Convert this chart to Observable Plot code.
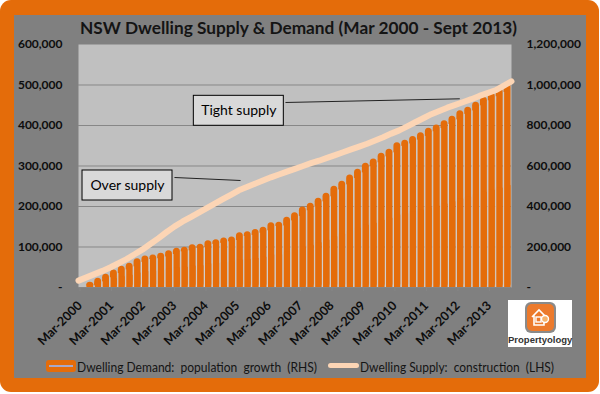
<!DOCTYPE html>
<html>
<head>
<meta charset="utf-8">
<script src="https://cdn.jsdelivr.net/npm/d3@7"></script>
<script src="https://cdn.jsdelivr.net/npm/@observablehq/plot@0.6"></script>
<style>
  html, body { margin: 0; padding: 0; background: #fff; }
  #wrap { position: relative; width: 600px; height: 394px; overflow: hidden; font-family: Lato, sans-serif; }
  .abs { position: absolute; }
  .fit { display: inline-block; white-space: pre; transform-origin: 0 50%; }
</style>
</head>
<body>
<div id="wrap">
  <div class="abs" style="left:0;top:0;width:599px;height:392px;background:#E46C0A;border-radius:11px;"></div>
  <div class="abs" style="left:14px;top:15px;width:572px;height:363px;background:#808080;"></div>
  <div id="chart" class="abs" style="left:0;top:0;"></div>
  <div class="abs" style="left:80px;top:17px;height:22px;line-height:22px;">
    <span id="title" class="fit" style="font-weight:bold;font-size:17px;color:#141414;"></span>
  </div>
  <!-- legend -->
  <div class="abs" style="left:46px;top:360px;width:30px;height:12px;background:#E46C0A;border-radius:3px;"></div>
  <div class="abs" style="left:49px;top:365px;width:24px;height:2px;background:#A8A8C8;"></div>
  <div class="abs" style="left:77px;top:357px;height:18px;line-height:18px;">
    <span id="leg1" class="fit" style="font-size:13px;color:#141414;"></span>
  </div>
  <div class="abs" style="left:328px;top:363px;width:31px;height:5px;background:#FCD5B5;border-radius:3px;"></div>
  <div class="abs" style="left:360px;top:357px;height:18px;line-height:18px;">
    <span id="leg2" class="fit" style="font-size:13px;color:#141414;"></span>
  </div>
  <!-- logo -->
  <div class="abs" style="left:508px;top:300px;width:64px;height:47px;background:#fff;">
    <div class="abs" style="left:17px;top:2px;width:31px;height:31px;border-radius:6px;background:#8a8a8a;">
      <div class="abs" style="left:2px;top:2px;width:27px;height:27px;border-radius:5px;background:#EC7A2C;">
        <svg width="27" height="27" viewBox="0 0 27 27" style="position:absolute;left:0;top:0">
          <path d="M5 13 L12 6 L19 13 M7 11 V21 H17 V15" fill="none" stroke="#fff" stroke-width="1.6"/>
          <rect x="9" y="13" width="5" height="5" fill="none" stroke="#fff" stroke-width="1.4"/>
          <circle cx="18" cy="15" r="3.5" fill="#F6B26B" stroke="#fff" stroke-width="1.4"/>
        </svg>
      </div>
    </div>
    <div class="abs" style="left:0;top:34px;width:64px;text-align:center;font:bold 9.5px 'Liberation Sans', Arial, sans-serif;color:#333;">Propertyology</div>
  </div>
</div>
<script>
// ---------------- data ----------------
const quarters = [
  "Mar-2000","Jun-2000","Sep-2000","Dec-2000",
  "Mar-2001","Jun-2001","Sep-2001","Dec-2001",
  "Mar-2002","Jun-2002","Sep-2002","Dec-2002",
  "Mar-2003","Jun-2003","Sep-2003","Dec-2003",
  "Mar-2004","Jun-2004","Sep-2004","Dec-2004",
  "Mar-2005","Jun-2005","Sep-2005","Dec-2005",
  "Mar-2006","Jun-2006","Sep-2006","Dec-2006",
  "Mar-2007","Jun-2007","Sep-2007","Dec-2007",
  "Mar-2008","Jun-2008","Sep-2008","Dec-2008",
  "Mar-2009","Jun-2009","Sep-2009","Dec-2009",
  "Mar-2010","Jun-2010","Sep-2010","Dec-2010",
  "Mar-2011","Jun-2011","Sep-2011","Dec-2011",
  "Mar-2012","Jun-2012","Sep-2012","Dec-2012",
  "Mar-2013","Jun-2013","Sep-2013"
];
// Dwelling Demand: population growth (RHS), thousands
const demandK = [
  0, 26, 46, 66, 87, 105, 120, 142, 156, 160, 169, 181, 194, 199, 211, 214,
  231, 236, 244, 250, 270, 275, 286, 298, 320, 322, 347, 369, 397, 416, 441, 466,
  500, 525, 556, 584, 614, 634, 663, 683, 715, 727, 746, 764, 787, 803, 823, 846,
  873, 890, 915, 940, 960, 981, 1006
];
// Dwelling Supply: construction (LHS), thousands
const supplyK = [
  17, 25, 33, 41, 50, 60, 70, 82, 94, 108, 122, 137, 151, 163, 174, 185,
  196, 207, 218, 229, 240, 248, 256, 264, 272, 279, 286, 293, 300, 307, 313, 320,
  327, 334, 341, 348, 355, 363, 371, 380, 388, 398, 408, 418, 428, 436, 444, 451,
  458, 465, 473, 480, 487, 498, 509
];
const leftTicks = [0, 100000, 200000, 300000, 400000, 500000, 600000];
const xTickLabels = ["Mar-2000","Mar-2001","Mar-2002","Mar-2003","Mar-2004","Mar-2005","Mar-2006",
                     "Mar-2007","Mar-2008","Mar-2009","Mar-2010","Mar-2011","Mar-2012","Mar-2013"];
const titleText = "NSW Dwelling Supply & Demand (Mar 2000 - Sept 2013)";
const legendDemand = "Dwelling Demand:  population  growth  (RHS)";
const legendSupply = "Dwelling Supply:  construction  (LHS)";
const noteLabels = ["Over supply", "Tight supply"];

// ---------------- build ----------------
const rows = quarters.map((q, i) => ({q, i, demand: demandK[i] * 1000, supply: supplyK[i] * 1000}));
const n = quarters.length;
const xTicks = xTickLabels.map(l => quarters.indexOf(l));
const fmt = d3.format(",");

// annotation layout (in data coordinates)
const notes = [
  {label: noteLabels[0], x1: 0.51, x2: 11.94, y1: 214800, y2: 288900, tx: 6.22, ty: 251900,
   px1: 12.19, py1: 271600, px2: 20.58, py2: 264200},
  {label: noteLabels[1], x1: 14.65, x2: 26.08, y1: 399300, y2: 473300, tx: 20.36, ty: 436300,
   px1: 26.29, py1: 456800, px2: 48.43, py2: 465900}
];

const orange = "#E46C0A";
const gaps = rows.slice(1).filter(d => rows[d.i - 1].demand > 0);
const chart = Plot.plot({
  width: 600,
  height: 350,
  marginLeft: 78,
  marginRight: 89,
  marginTop: 44,
  marginBottom: 63,
  style: {background: "transparent", fontFamily: "Lato, sans-serif", fontSize: "12px", fontWeight: "bold", color: "#0d0d0d", overflow: "visible"},
  x: {type: "linear", domain: [0, n], axis: null},
  y: {domain: [0, 600000], axis: null},
  marks: [
    Plot.frame({fill: "#C0C0C0", stroke: null}),
    Plot.gridY(leftTicks.slice(1, -1), {stroke: "#878787", strokeOpacity: 1}),
    // bars (RHS scale = 2x LHS)
    Plot.rect(rows, {x1: "i", x2: d => d.i + 1, y1: 0, y2: d => d.demand / 2, fill: orange, insetLeft: 0.5, insetRight: 0.5, rx: 3.6}),
    Plot.rect(rows.filter(d => d.demand > 0), {x1: "i", x2: d => d.i + 1, y1: 0, y2: d => d.demand / 4, fill: orange, insetLeft: 0.5, insetRight: 0.5}),
    // light separators between adjacent bars
    Plot.ruleX(gaps, {x: "i", y1: 0, y2: d => Math.max(0, Math.min(rows[d.i - 1].demand, d.demand) / 2 - 9000), stroke: "#D2D2D2", strokeWidth: 1}),
    Plot.ruleY([0], {stroke: "#868686"}),
    // supply line (LHS), plotted on tick marks across the full width
    Plot.line(rows, {x: d => d.i * n / (n - 1), y: "supply", stroke: "#FCD5B5", strokeWidth: 6, strokeLinejoin: "round", strokeLinecap: "round"}),
    // annotations
    Plot.link(notes, {x1: "px1", y1: "py1", x2: "px2", y2: "py2", stroke: "#222", strokeWidth: 1}),
    Plot.rect(notes, {x1: "x1", x2: "x2", y1: "y1", y2: "y2", fill: "#D9D9D9", stroke: "#000", strokeWidth: 1}),
    Plot.text(notes, {x: "tx", y: "ty", text: "label", fontSize: 14, fontWeight: "normal", fill: "#000"}),
    // axes
    Plot.axisY(leftTicks, {anchor: "left", tickSize: 0, tickPadding: 16, tickFormat: d => d === 0 ? "-" : fmt(d), fill: "#0d0d0d", fontWeight: "bold"}),
    Plot.axisY(leftTicks, {anchor: "right", tickSize: 0, tickPadding: 15, tickFormat: d => d === 0 ? "-" : fmt(d * 2), fill: "#0d0d0d", fontWeight: "bold"}),
    Plot.axisX(xTicks, {anchor: "bottom", tickSize: 4, tickPadding: 12, tickRotate: -45, tickFormat: i => quarters[i], stroke: "#868686", fill: "#0d0d0d", fontWeight: "bold", fontSize: 12.5, dx: 1.5})
  ]
});
document.getElementById("chart").appendChild(chart);

// texts
function fitText(id, text, width) {
  const el = document.getElementById(id);
  el.textContent = text;
  const w = el.getBoundingClientRect().width;
  if (w > 0) el.style.transform = `scaleX(${width / w})`;
}
fitText("title", titleText, 437);
fitText("leg1", legendDemand, 240);
fitText("leg2", legendSupply, 194);
</script>
</body>
</html>
